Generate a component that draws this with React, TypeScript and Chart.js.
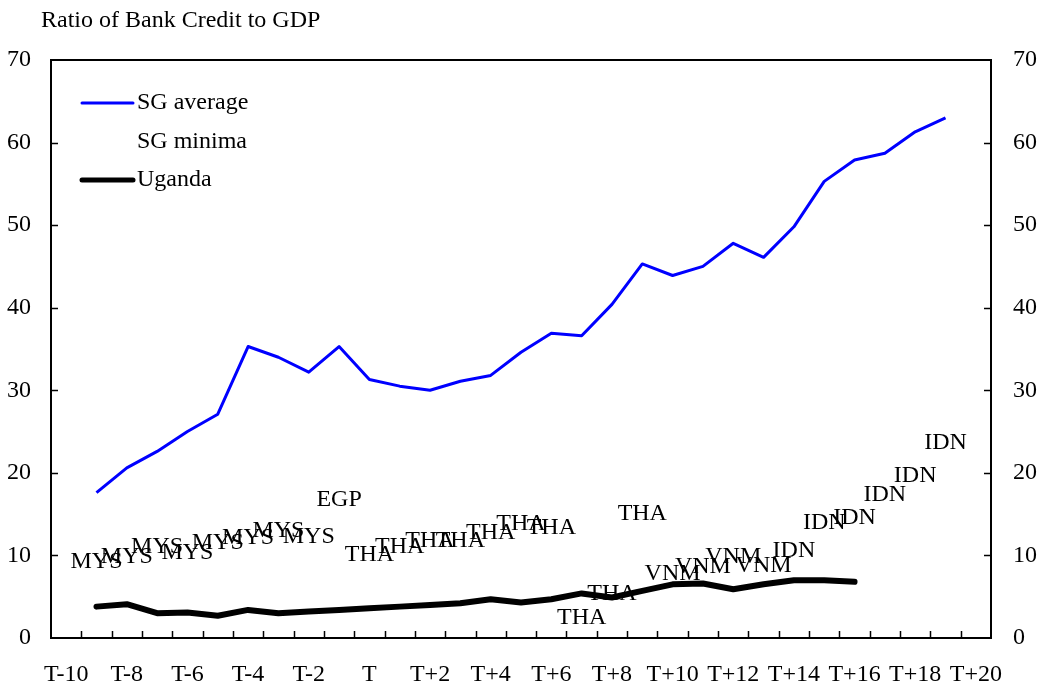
import React, { useEffect, useRef } from 'react';
import { Chart, registerables } from 'chart.js';

Chart.register(...registerables);

const FONT = "'Liberation Serif', 'Times New Roman', serif";
const FONT_SIZE = 24;

const chartTitle = 'Ratio of Bank Credit to GDP';

const categories = [
  'T-10', 'T-9', 'T-8', 'T-7', 'T-6', 'T-5', 'T-4', 'T-3', 'T-2', 'T-1',
  'T', 'T+1', 'T+2', 'T+3', 'T+4', 'T+5', 'T+6', 'T+7', 'T+8', 'T+9',
  'T+10', 'T+11', 'T+12', 'T+13', 'T+14', 'T+15', 'T+16', 'T+17', 'T+18', 'T+19', 'T+20',
];

const sgAverage = [
  null, 17.6, 20.6, 22.6, 25.0, 27.1, 35.3, 34.0, 32.2, 35.3,
  31.3, 30.5, 30.0, 31.1, 31.8, 34.6, 36.9, 36.6, 40.4, 45.3,
  43.9, 45.0, 47.8, 46.1, 49.8, 55.3, 57.9, 58.7, 61.3, 63.0, null,
];

const sgMinima = [
  null, 9.2, 9.9, 11.0, 10.3, 11.5, 12.1, 13.0, 12.3, 16.7,
  10.1, 11.0, 11.8, 11.8, 12.8, 13.8, 13.4, 2.4, 5.4, 15.1,
  7.8, 8.6, 9.8, 8.8, 10.6, 14.0, 14.6, 17.3, 19.7, 23.6, null,
];

const minimaCountries = [
  '', 'MYS', 'MYS', 'MYS', 'MYS', 'MYS', 'MYS', 'MYS', 'MYS', 'EGP',
  'THA', 'THA', 'THA', 'THA', 'THA', 'THA', 'THA', 'THA', 'THA', 'THA',
  'VNM', 'VNM', 'VNM', 'VNM', 'IDN', 'IDN', 'IDN', 'IDN', 'IDN', 'IDN', '',
];

const uganda = [
  null, 3.8, 4.1, 3.0, 3.1, 2.7, 3.4, 3.0, 3.2, 3.4,
  3.6, 3.8, 4.0, 4.2, 4.7, 4.3, 4.7, 5.4, 4.9, 5.7,
  6.5, 6.6, 5.9, 6.5, 7.0, 7.0, 6.8, null, null, null, null,
];

const seriesNames = ['SG average', 'SG minima', 'Uganda'];
const yMin = 0;
const yMax = 70;
const yStep = 10;

const BLUE = '#0000FF';
const BLACK = '#000000';

const titlePlugin = {
  id: 'customTitle',
  afterDraw(chart: any) {
    const ctx = chart.ctx;
    ctx.save();
    ctx.font = `${FONT_SIZE}px ${FONT}`;
    ctx.fillStyle = BLACK;
    ctx.textAlign = 'left';
    ctx.textBaseline = 'middle';
    ctx.fillText(chartTitle, 41, 21);
    ctx.restore();
  },
};

const framePlugin = {
  id: 'frameTicks',
  afterDraw(chart: any) {
    const { ctx, chartArea } = chart;
    const x = chart.scales.x;
    const y = chart.scales.y;
    ctx.save();
    ctx.strokeStyle = BLACK;
    ctx.lineWidth = 2;
    ctx.strokeRect(chartArea.left, chartArea.top, chartArea.right - chartArea.left, chartArea.bottom - chartArea.top);
    ctx.lineWidth = 1.5;
    const half = (x.getPixelForValue(1) - x.getPixelForValue(0)) / 2;
    ctx.beginPath();
    for (let i = 1; i < categories.length; i++) {
      const px = Math.round(x.getPixelForValue(i) - half) + 0.5;
      ctx.moveTo(px, chartArea.bottom);
      ctx.lineTo(px, chartArea.bottom - 7);
    }
    for (let v = yMin + yStep; v < yMax; v += yStep) {
      const py = Math.round(y.getPixelForValue(v)) + 0.5;
      ctx.moveTo(chartArea.left, py);
      ctx.lineTo(chartArea.left + 7, py);
      ctx.moveTo(chartArea.right, py);
      ctx.lineTo(chartArea.right - 7, py);
    }
    ctx.stroke();
    ctx.restore();
  },
};

const minimaLabelsPlugin = {
  id: 'minimaLabels',
  afterDatasetsDraw(chart: any) {
    const ctx = chart.ctx;
    const meta = chart.getDatasetMeta(1);
    ctx.save();
    ctx.font = `${FONT_SIZE}px ${FONT}`;
    ctx.fillStyle = BLACK;
    ctx.textAlign = 'center';
    ctx.textBaseline = 'middle';
    meta.data.forEach((el: any, i: number) => {
      const v = sgMinima[i];
      if (v === null || v === undefined) return;
      ctx.fillText(minimaCountries[i], el.x, el.y);
    });
    ctx.restore();
  },
};

const legendPlugin = {
  id: 'insideLegend',
  afterDraw(chart: any) {
    const { ctx, chartArea } = chart;
    const x0 = chartArea.left + 31;
    const x1 = chartArea.left + 82;
    const tx = chartArea.left + 86;
    const rows = [chartArea.top + 43, chartArea.top + 82, chartArea.top + 120];
    ctx.save();
    ctx.font = `${FONT_SIZE}px ${FONT}`;
    ctx.fillStyle = BLACK;
    ctx.textAlign = 'left';
    ctx.textBaseline = 'middle';
    chart.data.datasets.forEach((ds: any, i: number) => {
      const yy = rows[i];
      if (ds.showLine !== false) {
        ctx.beginPath();
        ctx.strokeStyle = ds.borderColor;
        ctx.lineWidth = i === 2 ? 5 : 3;
        ctx.lineCap = 'round';
        ctx.moveTo(x0, yy);
        ctx.lineTo(x1, yy);
        ctx.stroke();
      }
      ctx.fillText(ds.label, tx, yy);
    });
    ctx.restore();
  },
};

export default function App() {
  const canvasRef = useRef<HTMLCanvasElement | null>(null);

  useEffect(() => {
    if (!canvasRef.current) return;
    Chart.defaults.font.family = FONT;
    Chart.defaults.font.size = FONT_SIZE;
    Chart.defaults.color = BLACK;

    const yTickOpts = {
      min: yMin,
      max: yMax,
      grid: { display: false, drawTicks: false },
      border: { display: false },
      ticks: { stepSize: yStep, color: BLACK, font: { family: FONT, size: FONT_SIZE } },
    };

    const chart = new Chart(canvasRef.current, {
      type: 'line',
      data: {
        labels: categories,
        datasets: [
          {
            label: seriesNames[0],
            data: sgAverage,
            borderColor: BLUE,
            backgroundColor: BLUE,
            borderWidth: 3,
            pointRadius: 0,
            tension: 0,
            spanGaps: false,
            borderJoinStyle: 'round',
          },
          {
            label: seriesNames[1],
            data: sgMinima,
            borderColor: 'rgba(0,0,0,0)',
            backgroundColor: 'rgba(0,0,0,0)',
            showLine: false,
            pointRadius: 0,
          },
          {
            label: seriesNames[2],
            data: uganda,
            borderColor: BLACK,
            backgroundColor: BLACK,
            borderWidth: 6,
            pointRadius: 0,
            tension: 0,
            borderJoinStyle: 'round',
            borderCapStyle: 'round',
          },
        ],
      },
      options: {
        animation: false,
        responsive: true,
        maintainAspectRatio: false,
        layout: { padding: { top: 60, left: 0, right: 0, bottom: 0 } },
        plugins: {
          legend: { display: false },
          title: { display: false },
          tooltip: { enabled: false },
        },
        scales: {
          x: {
            type: 'category',
            offset: true,
            grid: { display: false, drawTicks: false, offset: true },
            border: { display: false },
            ticks: {
              autoSkip: false,
              maxRotation: 0,
              minRotation: 0,
              padding: 22,
              color: BLACK,
              font: { family: FONT, size: FONT_SIZE },
              callback: (_v: any, i: number) => (i % 2 === 0 ? categories[i] : ''),
            },
            afterFit: (scale: any) => {
              scale.height = 52;
            },
          },
          y: {
            ...yTickOpts,
            position: 'left',
            ticks: { ...yTickOpts.ticks, padding: 20 },
            afterFit: (scale: any) => {
              scale.width = 51;
            },
          },
          y2: {
            ...yTickOpts,
            position: 'right',
            ticks: { ...yTickOpts.ticks, padding: 22 },
            afterFit: (scale: any) => {
              scale.width = 55;
            },
          },
        },
      } as any,
      plugins: [titlePlugin, framePlugin, minimaLabelsPlugin, legendPlugin],
    });

    return () => {
      chart.destroy();
    };
  }, []);

  return (
    <div style={{ position: 'absolute', left: 0, top: 0, width: 1046, height: 690, background: '#fff' }}>
      <canvas ref={canvasRef} />
    </div>
  );
}
